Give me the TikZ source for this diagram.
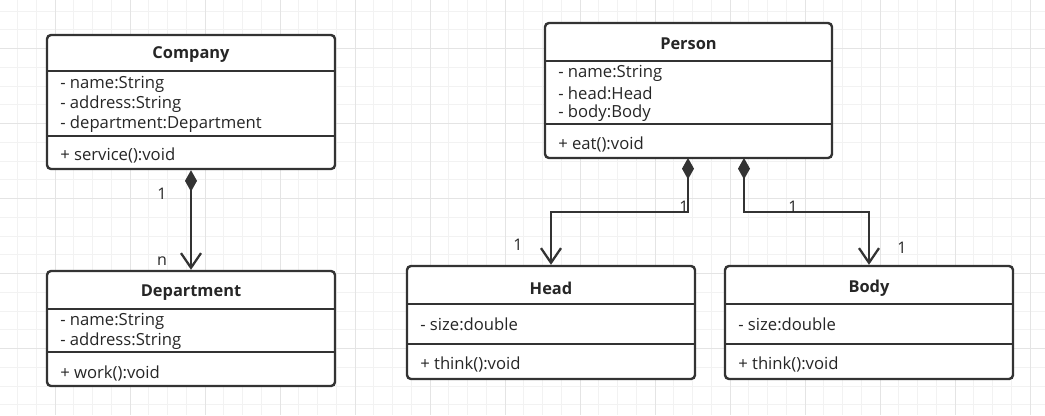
\documentclass[tikz,border=0pt]{standalone}
\usepackage{fontspec}
\setmainfont{Open Sans}
\usetikzlibrary{arrows.meta,fit}
\definecolor{ink}{HTML}{333333}
\definecolor{txt}{HTML}{262626}
\definecolor{gridminor}{HTML}{F2F2F2}
\definecolor{gridmajor}{HTML}{E4E4E4}
\begin{document}
\begin{tikzpicture}[x=0.75pt,y=-0.75pt,
  classbox/.style={draw=ink, line width=1.8pt, fill=white, rounded corners=3pt, inner sep=0pt},
  divider/.style={draw=ink, line width=1.8pt},
  ctitle/.style={font=\fontsize{12.3}{14}\selectfont\bfseries, text=txt, inner sep=0pt, yshift=-1.5pt},
  member/.style={anchor=west, font=\fontsize{12.5}{14}\selectfont, text=txt, inner sep=0pt, yshift=-1.5pt},
  mult/.style={font=\fontsize{12}{13}\selectfont, text=txt, inner sep=0pt, yshift=-1pt},
  comp/.style={draw=ink, line width=1.7pt,
    {Diamond[length=16pt,width=9pt,fill=ink]}-{Straight Barb[length=11pt,width=15pt]}},
  gmin/.style={draw=gridminor, line width=0.75pt},
  gmaj/.style={draw=gridmajor, line width=0.75pt}
]
\useasboundingbox (0,0) rectangle (1045,415);
\fill[white] (0,0) rectangle (1045,415);
% grid
\foreach \i in {0,...,55} {
  \pgfmathsetmacro\gx{17.5+18.75*\i}
  \draw[gmin] (\gx,0) -- (\gx,415);
}
\foreach \i in {0,...,22} {
  \pgfmathsetmacro\gy{11.2+18.75*\i}
  \draw[gmin] (0,\gy) -- (1045,\gy);
}
\foreach \i in {0,...,13} {
  \pgfmathsetmacro\gx{55+75*\i}
  \draw[gmaj] (\gx,0) -- (\gx,415);
}
\foreach \i in {0,...,5} {
  \pgfmathsetmacro\gy{48.7+75*\i}
  \draw[gmaj] (0,\gy) -- (1045,\gy);
}

% Company
\node[classbox, fit={(47,35) (335,169)}] (company) {};
\draw[divider] (47,71) -- (335,71);
\draw[divider] (47,136) -- (335,136);
\node[ctitle] (companyt) at (191,53) {Company};
\node[member] (c1) at (60,82) {- name:String};
\node[member] (c2) at (60,102) {- address:String};
\node[member] (c3) at (60,122) {- department:Department};
\node[member] (c4) at (60,153) {+ service():void};

% Department
\node[classbox, fit={(47,271) (335,386)}] (dept) {};
\draw[divider] (47,309) -- (335,309);
\draw[divider] (47,352) -- (335,352);
\node[ctitle] (deptt) at (191,291) {Department};
\node[member] (d1) at (60,319) {- name:String};
\node[member] (d2) at (60,339) {- address:String};
\node[member] (d3) at (60,371) {+ work():void};

% Person
\node[classbox, fit={(545,23) (832,158)}] (person) {};
\draw[divider] (545,61) -- (832,61);
\draw[divider] (545,124) -- (832,124);
\node[ctitle] (persont) at (688.5,42) {Person};
\node[member] (p1) at (558,71) {- name:String};
\node[member] (p2) at (558,91) {- head:Head};
\node[member] (p3) at (558,111) {- body:Body};
\node[member] (p4) at (558,142) {+ eat():void};

% Head
\node[classbox, fit={(407,266) (695,379)}] (head) {};
\draw[divider] (407,304) -- (695,304);
\draw[divider] (407,344) -- (695,344);
\node[ctitle] (headt) at (551,286) {Head};
\node[member] (h1) at (420,322) {- size:double};
\node[member] (h2) at (420,362) {+ think():void};

% Body
\node[classbox, fit={(725,266) (1013,379)}] (body) {};
\draw[divider] (725,304) -- (1013,304);
\draw[divider] (725,344) -- (1013,344);
\node[ctitle] (bodyt) at (869,286) {Body};
\node[member] (b1) at (738,322) {- size:double};
\node[member] (b2) at (738,362) {+ think():void};

% connectors
\coordinate (ph) at (688,158);
\coordinate (pb) at (744,158);
\draw[comp] (company.south) -- (dept.north);
\draw[comp] (ph) -- ++(0,54) -| (head.north);
\draw[comp] (pb) -- ++(0,54) -| (body.north);

% multiplicities
\node[mult] (m1) at (162,192) {1};
\node[mult] (m2) at (162,260) {n};
\node[mult] (m3) at (684,205) {1};
\node[mult] (m4) at (518,243) {1};
\node[mult] (m5) at (793,205) {1};
\node[mult] (m6) at (902,246) {1};
\end{tikzpicture}
\end{document}
